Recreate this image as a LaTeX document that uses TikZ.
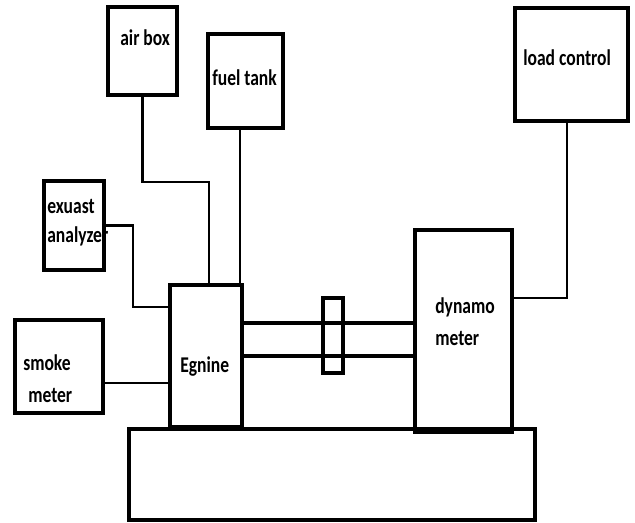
\documentclass[tikz,border=0pt]{standalone}
\usepackage{fontspec}
\setmainfont{Carlito}[FakeStretch=0.78]
\usetikzlibrary{fit}

\tikzset{
  part/.style={draw, line width=2.2pt, inner sep=0pt},
  wire/.style={line width=2pt},
  lbl/.style={inner sep=0pt, anchor=base west, font=\fontsize{16}{19}\selectfont\bfseries}
}

\begin{document}
\begin{tikzpicture}[x=0.025cm, y=-0.025cm]
\useasboundingbox (0,0) rectangle (635,522);

% Bloques
\node[part, fit={(108,7) (177,95)}] (airbox) {};
\node[part, fit={(208,34) (283,128)}] (fueltank) {};
\node[part, fit={(515,8) (628,121)}] (loadctrl) {};
\node[part, fit={(44,181) (104,270)}] (exhaust) {};
\node[part, fit={(15,320) (103,413)}] (smoke) {};
\node[part, fit={(129,429) (535,520)}] (base) {};
\node[part, fit={(170,285) (242,427)}] (engine) {};
\node[part, fit={(415,230) (512,432)}] (dynamo) {};

% Textos
\node[lbl] (airboxtxt) at (120,45) {air box};
\node[lbl] (fueltanktxt) at (212,85) {fuel tank};
\node[lbl] (loadctrltxt) at (523,65) {load control};
\node[lbl] (exhausttxt) at (47,213) {exuast};
\node[lbl] (exhausttxtb) at (47,242) {analyzer};
\node[lbl] (smoketxt) at (23,370) {smoke};
\node[lbl] (smoketxtb) at (28,402) {meter};
\node[lbl] (enginetxt) at (180,372) {Egnine};
\node[lbl] (dynamotxt) at (435,313) {dynamo};
\node[lbl] (dynamotxtb) at (435,345) {meter};

% Conexiones
\coordinate (airbend) at (209,182);
\draw[wire] (airbox.south) |- (airbend) -- (airbend |- engine.north);

\coordinate (fuelin) at (240,0);
\draw[wire] (fuelin |- fueltank.south) -- (fuelin |- engine.north);

\coordinate (exbend) at (133,307);
\draw[wire] (exhaust.east) -| (exbend) -- (exbend -| engine.west);

\coordinate (smokein) at (0,383);
\draw[wire] (smoke.east |- smokein) -- (engine.west |- smokein);

\coordinate (loadbend) at (567,298);
\draw[wire] (loadbend |- loadctrl.south) -- (loadbend) -- (loadbend -| dynamo.east);

% Eje y acople
\foreach \y in {323, 356}
	\draw[wire, line width=2.2pt] (engine.east |- 0,\y) -- (dynamo.west |- 0,\y);

\node[part, fit={(323,298) (343,373)}] (coupling) {};
\end{tikzpicture}
\end{document}
